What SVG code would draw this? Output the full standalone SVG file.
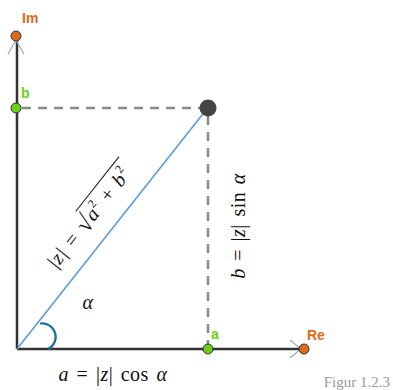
<svg xmlns="http://www.w3.org/2000/svg" width="393" height="390" viewBox="0 0 393 390">
<style>
.axis{stroke:#333;stroke-width:2.5;fill:none}
.dash{stroke:#888;stroke-width:2.5;stroke-dasharray:9 7;fill:none}
.tick{stroke:#aaa;stroke-width:1.3;fill:none}
.math{font-family:"Liberation Serif",serif;font-size:20px;fill:#111;letter-spacing:0.5px;word-spacing:2px}
.lbl{font-family:"Liberation Sans",Arial,sans-serif;font-size:14px;font-weight:bold}
.or{fill:#e06a1b}
.gr{fill:#6ccf1a}
.pt{stroke:#333;stroke-width:1}
</style>
<rect width="393" height="390" fill="#fff"/>
<g id="connectors">
<line class="axis" x1="17" y1="349" x2="17" y2="36"/>
<line class="axis" x1="17" y1="349" x2="304" y2="349"/>
<polyline class="tick" points="8,54 16,40 24,54"/>
<polyline class="tick" points="290,340 301,349 290,358"/>
<line class="dash" x1="22" y1="108" x2="208" y2="108"/>
<line class="dash" x1="208" y1="116" x2="208" y2="345"/>
<line x1="17" y1="349" x2="206" y2="110" stroke="#5b9ae0" stroke-width="1.6"/>
<path d="M40,323.5 A13.5,13.5 0 0 1 48,349" fill="none" stroke="#1b6f9a" stroke-width="2.2"/>
</g>
<g id="im"><circle class="pt or" cx="16" cy="36" r="5"/><text class="lbl or" x="22" y="23">Im</text></g>
<g id="re"><circle class="pt or" cx="304" cy="349" r="5"/><text class="lbl or" x="307" y="340">Re</text></g>
<g id="b"><circle class="pt gr" cx="16" cy="108" r="5"/><text class="lbl gr" x="21" y="98">b</text></g>
<g id="a"><circle class="pt gr" cx="208" cy="349" r="5"/><text class="lbl gr" x="211" y="339">a</text></g>
<g id="z"><circle cx="208" cy="108" r="8.5" fill="#444"/></g>
<g id="label-z" transform="translate(56,270) rotate(-51.6)">
<text class="math" x="0" y="0"><tspan font-style="italic">|z|</tspan> = <tspan font-size="25" dy="2">√</tspan></text>
<text class="math" x="61" y="0" letter-spacing="1"><tspan font-style="italic">a</tspan><tspan font-size="12" dy="-9">2</tspan><tspan dy="9"> + </tspan><tspan font-style="italic">b</tspan><tspan font-size="12" dy="-9">2</tspan></text>
<line x1="58" y1="-21" x2="128" y2="-21" stroke="#111" stroke-width="1"/>
</g>
<g id="label-b" transform="translate(245,226) rotate(-90)">
<text class="math" x="0" y="0" text-anchor="middle"><tspan font-style="italic">b</tspan> = |<tspan font-style="italic">z</tspan>| sin <tspan font-style="italic">α</tspan></text>
</g>
<text class="math" x="88" y="309" text-anchor="middle" font-style="italic" font-size="21">α</text>
<text class="math" x="113" y="381" text-anchor="middle"><tspan font-style="italic">a</tspan> = |<tspan font-style="italic">z</tspan>| cos <tspan font-style="italic">α</tspan></text>
<text x="390" y="387" text-anchor="end" font-family="Liberation Serif,serif" font-size="15" fill="#999">Figur 1.2.3</text>
</svg>
